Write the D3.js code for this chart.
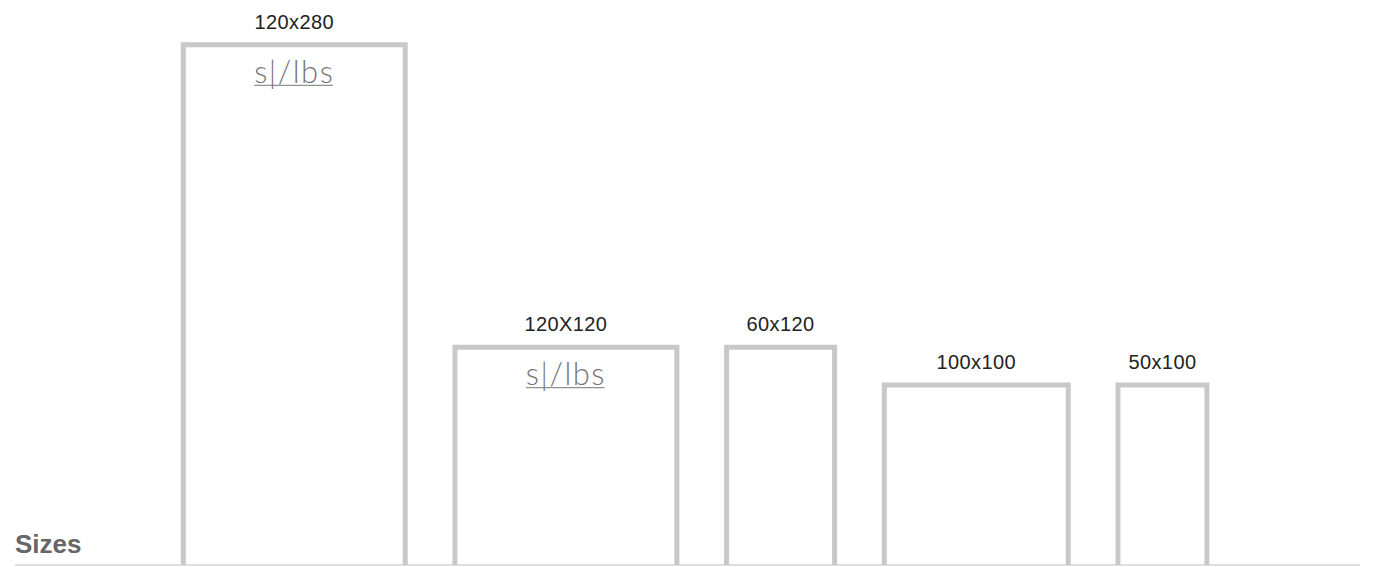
<!DOCTYPE html>
<html>
<head>
<meta charset="utf-8">
<script src="https://d3js.org/d3.v7.min.js"></script>
<style>
  body { margin: 0; background: #fff; }
  svg { display: block; }
</style>
</head>
<body>
<svg width="1379" height="567"></svg>
<script>
// ad sizes, in units
var labels  = ['120x280', '120X120', '60x120', '100x100', '50x100']
var widths  = [120, 120, 60, 100, 50]
var heights = [280, 120, 120, 100, 100]
var logo    = [true, true, false, false, false]
var lead = 87, gap = 23, tail = 79

var svg = d3.select('svg')
var base = 565, inset = 3

// lay out boxes along the unit axis
var x0 = lead
var boxes = labels.map(function (l, i) {
  var b = { label: l, x: x0, w: widths[i], h: heights[i], logo: logo[i] }
  x0 += widths[i] + gap
  return b
})
var total = x0 - gap + tail

var x = d3.scaleLinear().domain([0, total]).range([15, 1360])
var y = d3.scaleLinear().domain([0, 280]).range([574, 574 - 280 * 1.89])

svg.append('line')
  .attr('x1', x(0)).attr('x2', x(total))
  .attr('y1', base).attr('y2', base)
  .attr('stroke', '#d4d4d4')
  .attr('stroke-width', 1.5)

svg.selectAll('path.box')
  .data(boxes)
  .enter().append('path')
  .attr('class', 'box')
  .attr('fill', 'none')
  .attr('stroke', '#c8c8c8')
  .attr('stroke-width', 5)
  .attr('d', function (d) {
    var l = x(d.x) + inset, r = x(d.x + d.w) - inset
    return d3.line()([[l, base], [l, y(d.h)], [r, y(d.h)], [r, base]])
  })

svg.selectAll('text.size')
  .data(boxes)
  .enter().append('text')
  .attr('class', 'size')
  .attr('x', function (d) { return x(d.x + d.w / 2) })
  .attr('y', function (d) { return y(d.h) - 16 })
  .attr('text-anchor', 'middle')
  .attr('font-family', 'Liberation Sans, Arial, sans-serif')
  .attr('font-size', 20)
  .attr('letter-spacing', 0.4)
  .attr('fill', '#222')
  .text(function (d) { return d.label })

// logo with a thin underline
var lg = svg.selectAll('g.logo')
  .data(boxes.filter(function (d) { return d.logo }))
  .enter().append('g')
  .attr('class', 'logo')
  .attr('transform', function (d) { return 'translate(' + x(d.x + d.w / 2) + ',' + (y(d.h) + 38) + ')' })

lg.append('text')
  .attr('text-anchor', 'middle')
  .attr('font-family', 'Lato, sans-serif')
  .attr('font-weight', 300)
  .attr('font-size', 31)
  .attr('letter-spacing', 1.5)
  .attr('fill', '#777')
  .text('s|/lbs')

lg.each(function () {
  var g = d3.select(this)
  var bb = g.select('text').node().getBBox()
  g.append('line')
    .attr('x1', bb.x).attr('x2', bb.x + bb.width - 1.5)
    .attr('y1', 2.5).attr('y2', 2.5)
    .attr('stroke', '#777')
    .attr('stroke-width', 1)
})

svg.append('text')
  .attr('x', 15)
  .attr('y', 553)
  .attr('font-family', 'Liberation Sans, Arial, sans-serif')
  .attr('font-weight', 'bold')
  .attr('font-size', 26)
  .attr('fill', '#666')
  .text('Sizes')
</script>
</body>
</html>
